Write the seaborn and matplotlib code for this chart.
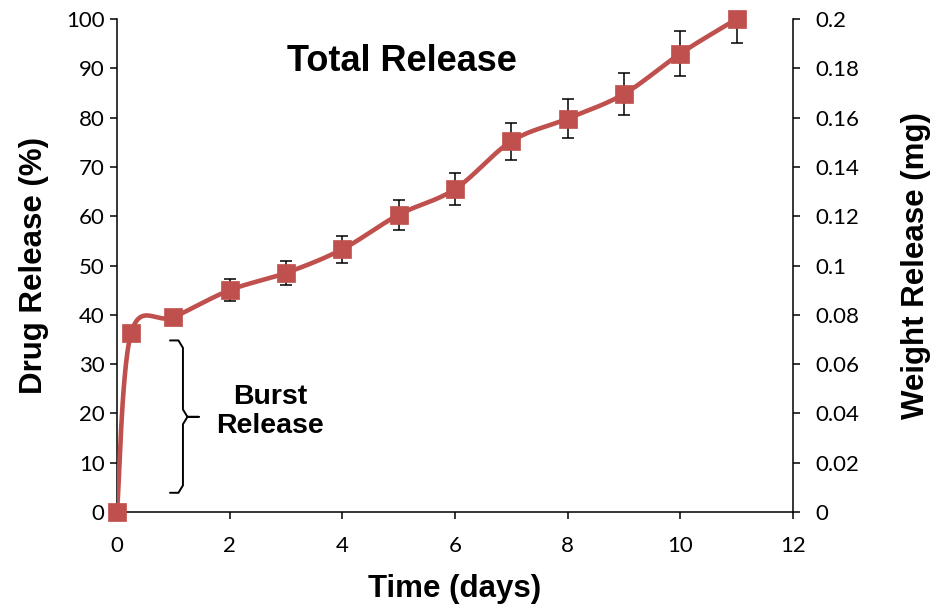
import numpy as np
import pandas as pd
import matplotlib
matplotlib.use('Agg')
import matplotlib.pyplot as plt
from matplotlib.ticker import FuncFormatter, MultipleLocator
import seaborn as sns

# values
days = [0, 0.25, 1, 2, 3, 4, 5, 6, 7, 8, 9, 10, 11]
release = [0, 36.3, 39.5, 45.0, 48.5, 53.3, 60.3, 65.5, 75.2, 79.8, 84.8, 93.0, 100.0]
err = [0, 0.8, 1.0, 2.2, 2.4, 2.7, 3.0, 3.3, 3.7, 4.0, 4.2, 4.6, 4.9]

red = '#C0504D'
bold_font = ['Liberation Sans', 'DejaVu Sans']


def smooth(x, y, n=30):
    # excel-like smoothed line (catmull-rom bezier between points)
    x = np.asarray(x, float)
    y = np.asarray(y, float)
    xs, ys = [x[0]], [y[0]]
    for i in range(len(x) - 1):
        i0 = max(i - 1, 0)
        i3 = min(i + 2, len(x) - 1)
        p0 = np.array([x[i], y[i]])
        p3 = np.array([x[i + 1], y[i + 1]])
        c1 = p0 + (p3 - np.array([x[i0], y[i0]])) / 6
        c2 = p3 - (np.array([x[i3], y[i3]]) - p0) / 6
        t = np.linspace(0, 1, n)[1:, None]
        b = (1 - t) ** 3 * p0 + 3 * (1 - t) ** 2 * t * c1 + 3 * (1 - t) * t ** 2 * c2 + t ** 3 * p3
        xs.extend(b[:, 0])
        ys.extend(b[:, 1])
    return np.array(xs), np.array(ys)


df = pd.DataFrame({'days': days, 'release': release, 'err': err})
sx, sy = smooth(days, release)
curve = pd.DataFrame({'days': sx, 'release': sy})

sns.set_style('ticks')
plt.rcParams['font.family'] = ['Lato', 'DejaVu Sans']
plt.rcParams['text.color'] = 'black'
plt.rcParams['axes.labelcolor'] = 'black'
plt.rcParams['xtick.color'] = 'black'
plt.rcParams['ytick.color'] = 'black'
plt.rcParams['xtick.major.size'] = 5
plt.rcParams['ytick.major.size'] = 5
plt.rcParams['xtick.major.width'] = 1.1
plt.rcParams['ytick.major.width'] = 1.1

fig = plt.figure(figsize=(9.34, 6.07), dpi=100)
ax = fig.add_axes([0.1253, 0.1565, 0.7238, 0.8122])

ax.errorbar(df['days'], df['release'], yerr=df['err'], fmt='none', ecolor='black',
            elinewidth=1.1, capsize=4.3, capthick=1.1, zorder=2)
sns.lineplot(data=curve, x='days', y='release', sort=False, color=red, linewidth=3.3,
             ax=ax, zorder=3, estimator=None)
sns.scatterplot(data=df, x='days', y='release', marker='s', s=180, color=red,
                edgecolor=red, linewidth=0.5, ax=ax, zorder=4, clip_on=False)

ax.set_xlim(0, 12)
ax.set_ylim(0, 100)
ax.xaxis.set_major_locator(MultipleLocator(2))
ax.yaxis.set_major_locator(MultipleLocator(10))
ax.tick_params(axis='both', labelsize=16, colors='black', direction='out')
ax.tick_params(axis='x', pad=12)
ax.tick_params(axis='y', pad=4)
ax.set_xlabel('Time (days)', fontsize=22.5, fontweight='bold', family=bold_font, labelpad=13)
ax.set_ylabel('Drug Release (%)', fontsize=22.5, fontweight='bold', family=bold_font, labelpad=12)
for s in ['left', 'bottom']:
    ax.spines[s].set_linewidth(1.1)
    ax.spines[s].set_color('black')
ax.spines['top'].set_visible(False)
ax.spines['right'].set_visible(False)

ax2 = ax.twinx()
ax2.set_ylim(0, 0.2)
ax2.yaxis.set_major_locator(MultipleLocator(0.02))
ax2.yaxis.set_major_formatter(FuncFormatter(lambda v, p: f'{v:g}'))
ax2.tick_params(axis='y', labelsize=16, colors='black', pad=11)
ax2.set_ylabel('Weight Release (mg)', fontsize=22.5, fontweight='bold', family=bold_font,
               labelpad=30)
ax2.spines['right'].set_linewidth(1.1)
ax2.spines['right'].set_color('black')
ax2.spines['top'].set_visible(False)
ax2.spines['left'].set_visible(False)
ax2.spines['bottom'].set_visible(False)

ax.text(5.05, 91.4, 'Total Release', fontsize=26, fontweight='bold', family=bold_font,
        ha='center', va='center')
ax.text(2.72, 20.4, 'Burst\nRelease', fontsize=20.5, fontweight='bold', family=bold_font,
        ha='center', va='center', linespacing=1.15)

# curly brace next to the burst phase
bx0, bx1, bx2 = 0.94, 1.17, 1.45
by0, by1, ym = 3.9, 34.8, 19.3
path_x = [bx0, bx1 - 0.08, bx1, bx1, bx1 + 0.08, bx2, bx1 + 0.08, bx1, bx1, bx1 - 0.08, bx0]
path_y = [by1, by1, by1 - 1.5, ym + 1.5, ym, ym, ym, ym - 1.5, by0 + 1.5, by0, by0]
ax.plot(path_x, path_y, color='black', linewidth=1.4, solid_joinstyle='round', zorder=2)

fig.savefig('out.png', dpi=100)
